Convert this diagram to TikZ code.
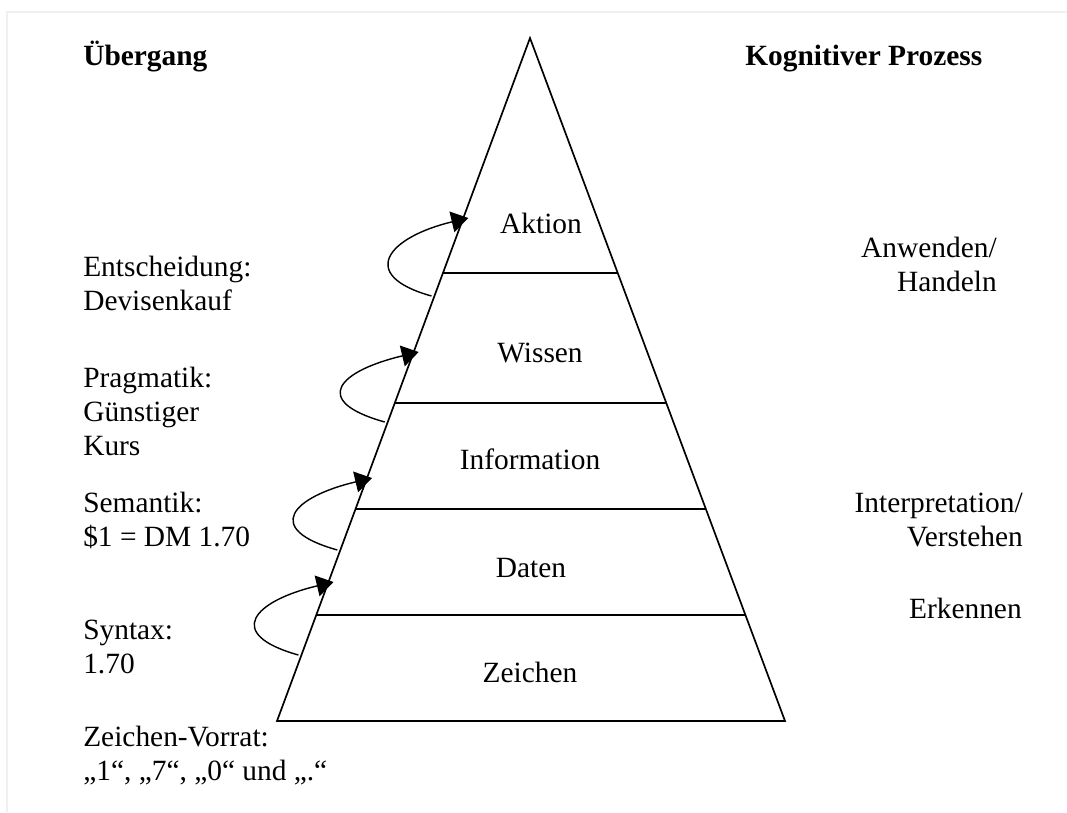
\documentclass[tikz,border=0pt]{standalone}
\usepackage{fontspec}
\setmainfont{Liberation Serif}
\usetikzlibrary{arrows.meta,calc,positioning}

\begin{document}
\begin{tikzpicture}[x=0.025cm,y=-0.025cm,
  lbl/.style={inner sep=0pt,font=\fontsize{20.9}{24.1}\selectfont},
  hd/.style={lbl,anchor=base west,font=\fontsize{20.9}{24.1}\selectfont\bfseries},
  lft/.style={lbl,align=left,anchor=base west},
  rgt/.style={lbl,align=right,anchor=base east},
  inlbl/.style={lbl,anchor=base},
  divline/.style={line width=1.8pt},
  hop/.style={line width=1pt,-{Triangle[length=12pt,width=15pt]}}]
\useasboundingbox (0,0) rectangle (1067,812);
\draw[gray!12,line width=1.4pt](7,812)--(7,12)--(1067,12);
\coordinate (T) at (530,38);
\coordinate (L) at (277,721);
\coordinate (R) at (785,721);
\draw[line width=1.2pt,line join=miter](T)--(L)--(R)--cycle;
\foreach \y in {273,403,509,615}
  \draw[divline]($(T)!{(\y-38)/683}!(L)$)--($(T)!{(\y-38)/683}!(R)$);
\foreach \s/\e [count=\i] in {296/218,422/352,550/478,655/582}{
  \coordinate (s\i) at ($(T)!{(\s-38)/683}!(L)+(-3,0)$);
  \coordinate (e\i) at ($(T)!{(\e-38)/683}!(L)+(5,0)$);
  \draw[hop](s\i)..controls ($(s\i)+(-75,-21)$) and ($(e\i)+(-80,19)$)..(e\i);
}
\node[hd] (ueb) at (83,65){Übergang};
\node[hd] (kog) at (745,65){Kognitiver Prozess};
\node[inlbl] (akt) at (541,233){Aktion};
\node[inlbl] (wis) at (540,362){Wissen};
\node[inlbl] (inf) at (530,469){Information};
\node[inlbl] (dat) at (531,577){Daten};
\node[inlbl] (zei) at (530,682){Zeichen};
\node[lft] (ent) at (83,310){Entscheidung:\\Devisenkauf};
\node[lft] (prag) at (83,455){Pragmatik:\\Günstiger\\Kurs};
\node[lft] (sem) at (83,546){Semantik:\\\$1 = DM 1.70};
\node[lft] (syn) at (83,673){Syntax:\\1.70};
\node[lft] (vor) at (83,780){Zeichen-Vorrat:\\„1“, „7“, „0“ und „.“};
\node[rgt] (anw) at (997,291){Anwenden/\\Handeln};
\node[rgt] (int) at (1023,546){Interpretation/\\Verstehen};
\node[rgt] (erk) at (1022,618){Erkennen};
\end{tikzpicture}
\end{document}
